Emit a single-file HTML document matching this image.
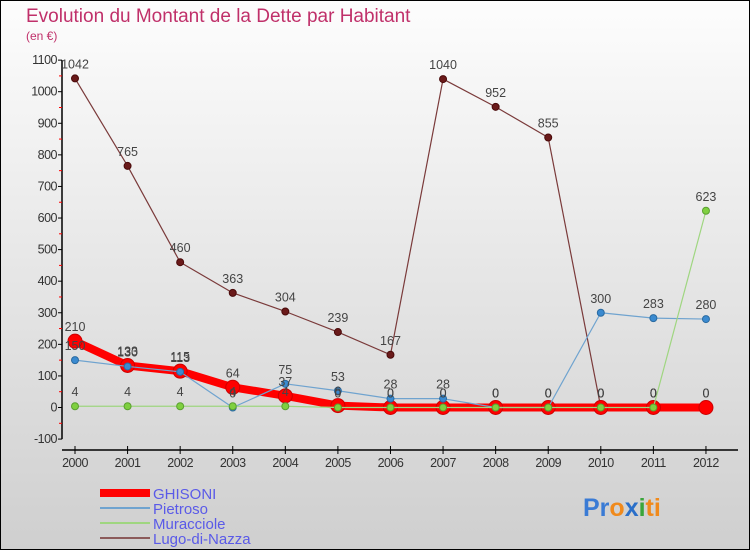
<!DOCTYPE html>
<html><head><meta charset="utf-8"><style>
body{margin:0;}
svg{display:block;font-family:"Liberation Sans",sans-serif;}
</style></head><body>
<svg id="c" width="750" height="550" viewBox="0 0 750 550">
<defs><linearGradient id="bg" x1="0" y1="0" x2="0" y2="1"><stop offset="0" stop-color="#fdfdfd"/><stop offset="1" stop-color="#cfcfcf"/></linearGradient></defs>
<rect x="0.5" y="0.5" width="749" height="549" fill="url(#bg)" stroke="#000"/>
<text x="26" y="22" font-size="19" fill="#c0306a">Evolution du Montant de la Dette par Habitant</text>
<text x="26" y="40" font-size="12" fill="#c0306a">(en €)</text>
<g id="axes"></g><g id="series"></g><g id="labels"></g>
<g>
<rect x="100" y="489" width="50" height="8" fill="#f00"/>
<text x="153" y="499" font-size="15" fill="#5a5ae8">GHISONI</text>
<line x1="100" y1="508" x2="150" y2="508" stroke="#6fa3cf" stroke-width="2"/>
<text x="153" y="514" font-size="15" fill="#5a5ae8">Pietroso</text>
<line x1="100" y1="523" x2="150" y2="523" stroke="#9fd680" stroke-width="2"/>
<text x="153" y="529" font-size="15" fill="#5a5ae8">Muracciole</text>
<line x1="100" y1="538" x2="150" y2="538" stroke="#8b5a5a" stroke-width="2"/>
<text x="153" y="544" font-size="15" fill="#5a5ae8">Lugo-di-Nazza</text>
</g>
<text x="583" y="516" font-size="25" font-weight="bold"><tspan fill="#3a7bd5">Pr</tspan><tspan fill="#f08a1c">o</tspan><tspan fill="#2a6fc9">x</tspan><tspan fill="#3aa53a">i</tspan><tspan fill="#f08a1c">ti</tspan></text>
</svg>
<script>
const years=[2000,2001,2002,2003,2004,2005,2006,2007,2008,2009,2010,2011,2012];
const ghisoni=[210,133,115,64,37,6,0,0,0,0,0,0,0];
const pietroso=[150,130,113,0,75,53,28,28,0,0,300,283,280];
const muracciole=[4,4,4,4,4,0,0,0,0,0,0,0,623];
const lugo=[1042,765,460,363,304,239,167,1040,952,855,0,0,0];
const yTicks=[-100,0,100,200,300,400,500,600,700,800,900,1000,1100];
const NS="http://www.w3.org/2000/svg";
const X=i=>75+i*52.58;
const Y=v=>407.5-v*0.3158;
function mk(p,t,a){const e=document.createElementNS(NS,t);for(const k in a)e.setAttribute(k,a[k]);p.appendChild(e);return e;}
const ax=document.getElementById('axes'),sr=document.getElementById('series'),lb=document.getElementById('labels');
let yl=mk(ax,'line',{x1:62,y1:Y(1100),x2:62,y2:Y(-100),stroke:'#000','stroke-width':1.5});


yTicks.forEach(v=>{mk(ax,'line',{x1:58,y1:Y(v),x2:62,y2:Y(v),stroke:'#000'});
if(v<1100)mk(ax,'line',{x1:59,y1:Y(v+50),x2:62,y2:Y(v+50),stroke:'#f00'});
const t=mk(ax,'text',{x:57,y:Y(v)+4,'font-size':12.5,'text-anchor':'end',fill:'#333','letter-spacing':'-0.5'});t.textContent=v;

});
let xl=mk(ax,'line',{x1:62,y1:450,x2:738,y2:450,stroke:'#000','stroke-width':1.5});


years.forEach((y,i)=>{mk(ax,'line',{x1:X(i),y1:446,x2:X(i),y2:454,stroke:'#000'});
const t=mk(ax,'text',{x:X(i),y:467,'font-size':12.5,'text-anchor':'middle',fill:'#333','letter-spacing':'-0.5'});t.textContent=y;

});
function series(d,col,w,r,dot,dotStroke,name){
const pl=mk(sr,'polyline',{points:d.map((v,i)=>X(i)+','+Y(v)).join(' '),fill:'none',stroke:col,'stroke-width':w,'stroke-linejoin':'round'});


d.forEach((v,i)=>{const c=mk(sr,'circle',{cx:X(i),cy:Y(v),r:r,fill:dot,stroke:dotStroke,'stroke-width':1});


const t=mk(lb,'text',{x:X(i),y:Y(v)-10,'font-size':12.5,'text-anchor':'middle',fill:'#444'});t.textContent=v;

});}
series(lugo,'#7a3a3a',1.2,3.5,'#6a1a1a','#4a0a0a','lugo');
series(ghisoni,'#f00',8,7,'#f00','#c00','ghisoni');
series(pietroso,'#6fa3cf',1.2,3.5,'#3a8ad0','#2a6aa0','pietroso');
series(muracciole,'#9fd680',1.2,3.5,'#7fd040','#5aa030','muracciole');
</script>
</body></html>
